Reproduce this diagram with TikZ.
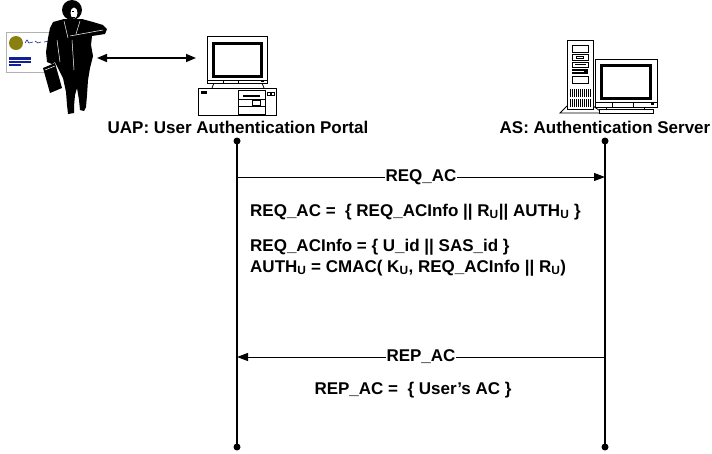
\documentclass[tikz,border=0pt]{standalone}
\usepackage{fontspec}
\setmainfont{Liberation Sans}
\usetikzlibrary{arrows.meta, positioning}
\definecolor{cardolive}{RGB}{138,128,16}
\definecolor{cardblue}{RGB}{20,30,150}

\begin{document}
\begin{tikzpicture}[x=1pt, y=-1pt,
  txt/.style={font=\bfseries\fontsize{17}{19}\selectfont, inner sep=0pt},
  lifeline/.style={line width=1.3pt},
  lifedot/.style={circle, fill=black, inner sep=0pt, minimum size=7pt},
  msg/.style={line width=1pt, -{Triangle[length=11pt, width=8pt]}},
  msglbl/.style={txt, fill=white, inner xsep=1pt, inner ysep=2pt},
  kit/.style={draw=black, fill=white, line width=0.8pt},
  screen/.style={draw=black, fill=white, line width=3pt}]
  \useasboundingbox (0,0) rectangle (712,453);

  % ID card behind the user
  \draw[gray!60, fill=white, line width=1pt] (6,32) rectangle (52,72);
  \fill[cardolive] (16,43) circle (7);
  \draw[cardblue, line width=0.6pt] (25,43) -- (27,40) -- (29,43) -- (33,42) (35,41) -- (38,43) -- (41,42) (44,42) -- (50,41);
  \fill[cardblue] (9,57) rectangle (31,59.5);
  \fill[cardblue] (9,60.5) rectangle (31,63);
  \fill[cardblue] (9,64) rectangle (21,66);

  % user silhouette
  \fill[black] (72,10) ellipse (10 and 10);
  \fill[black] (53,22) -- (64,19) -- (82,19) -- (93,22) -- (103,25) -- (107,29)
    -- (105,34) -- (92,36) -- (91,45) -- (93,56) -- (90,68) -- (88,80)
    -- (87,95) -- (86,107) -- (84,111) -- (80,110) -- (79,100) -- (77,88)
    -- (75,95) -- (74,106) -- (74,113) -- (68,114) -- (67,105) -- (66,92)
    -- (63,78) -- (59,70) -- (55,62) -- (52,64) -- (47,62) -- (46,52)
    -- (48,38) -- (50,28) -- cycle;
  \fill[white] (74,13) ellipse (3.5 and 5.5);
  \draw[black, line width=0.8pt] (72,11) -- (74,11) (72,17) -- (75,17);
  \draw[white, line width=0.5pt] (70,36) -- (103,30) (64,21) -- (68,38) (80,21) -- (76,34)
    (72,40) -- (74,70) (57,40) -- (60,62);
  % briefcase
  \fill[black] (43,68) -- (55,63) -- (62,88) -- (50,93) -- cycle;
  \draw[white, line width=0.5pt] (45,70) -- (55,66);

  % UAP desktop computer
  \draw[kit] (198,88) rectangle (276,115);
  \fill[black] (201,91) rectangle (207,94);
  \draw[kit] (238,90) rectangle (265,114);
  \fill[black] (243,95) rectangle (260,97);
  \draw[line width=0.6pt] (238,99) -- (265,99) (238,106) -- (265,106);
  \draw[line width=0.6pt] (252,100) rectangle (260,105);
  \draw[line width=0.6pt] (267,92) rectangle (270,95) (271,92) rectangle (274,95);
  \draw[line width=0.8pt] (214,83) -- (212,88) (262,83) -- (264,88);
  \draw[kit] (207,36) rectangle (267,83);
  \draw[screen] (213,43) rectangle (261,76);
  \draw[line width=0.6pt] (207,80) -- (267,80) (223,80) -- (223,83) (238,80) -- (238,83);
  \fill[black] (261,80.5) rectangle (264,82);

  % AS server tower and monitor
  \draw[line width=0.8pt] (567,106) -- (560,113) -- (603,113) -- (593,106);
  \draw[kit] (567,40) rectangle (593,109);
  \draw[line width=0.6pt] (572,45) rectangle (588,52);
  \draw[line width=0.6pt] (572,54) rectangle (588,60);
  \draw[line width=0.6pt] (576,56) rectangle (583,58);
  \draw[line width=0.6pt] (572,62) rectangle (588,67);
  \fill[black] (575,64) rectangle (586,65);
  \fill[black] (572,69) rectangle (588,74);
  \draw[white, line width=0.4pt] (572,71.5) -- (584,71.5);
  \draw[line width=0.6pt] (572,76) rectangle (588,83);
  \foreach \vx in {570,572,...,590}
    \draw[line width=0.7pt] (\vx,89) -- (\vx,97) (\vx,99) -- (\vx,107);
  \draw[kit] (599,109) rectangle (653,113);
  \draw[line width=0.8pt] (606,107) -- (606,109) (644,107) -- (644,109);
  \draw[kit] (595,59) rectangle (657,107);
  \draw[screen] (601,65) rectangle (650,98);
  \draw[line width=0.6pt] (595,102) -- (657,102) (612,102) -- (612,107) (633,102) -- (633,107);
  \fill[black] (651,103) rectangle (654,105);

  % user <-> portal link
  \coordinate (userEnd) at (97,58);
  \coordinate (uapPc) at (196,58);
  \draw[line width=1.5pt, {Triangle[length=10pt, width=8pt]}-{Triangle[length=10pt, width=8pt]}] (userEnd) -- (uapPc);

  % entity labels
  \node[txt] (uapLbl) at (238,127) {UAP: User Authentication Portal};
  \node[txt] (asLbl) at (605,127) {AS: Authentication Server};

  % lifelines
  \node[lifedot] (uapTop) at (237,141) {};
  \node[lifedot] (uapBot) at (237,447) {};
  \node[lifedot] (asTop) at (605,141) {};
  \node[lifedot] (asBot) at (605,447) {};
  \draw[lifeline] (uapTop.center) -- (uapBot.center);
  \draw[lifeline] (asTop.center) -- (asBot.center);

  % request
  \coordinate (uapReq) at (237,177);
  \coordinate (asReq) at (605,177);
  \draw[msg] (uapReq) -- node[msglbl] (reqLbl) {REQ\_AC} (asReq);
  \node[txt, anchor=west] (reqEq) at (250,212)
    {REQ\_AC =\ \ \{ REQ\_ACInfo || R\textsubscript{U}|| AUTH\textsubscript{U} \}};
  \node[txt, anchor=west] (infoEq) at (250,247) {REQ\_ACInfo = \{ U\_id || SAS\_id \}};
  \node[txt, anchor=west] (authEq) at (250,268)
    {AUTH\textsubscript{U} = CMAC( K\textsubscript{U}, REQ\_ACInfo || R\textsubscript{U})};

  % reply
  \coordinate (asRep) at (605,357);
  \coordinate (uapRep) at (237,357);
  \draw[msg] (asRep) -- node[msglbl] (repLbl) {REP\_AC} (uapRep);
  \node[txt] (repEq) at (413,390) {REP\_AC =\ \ \{ User's AC \}};
\end{tikzpicture}
\end{document}
